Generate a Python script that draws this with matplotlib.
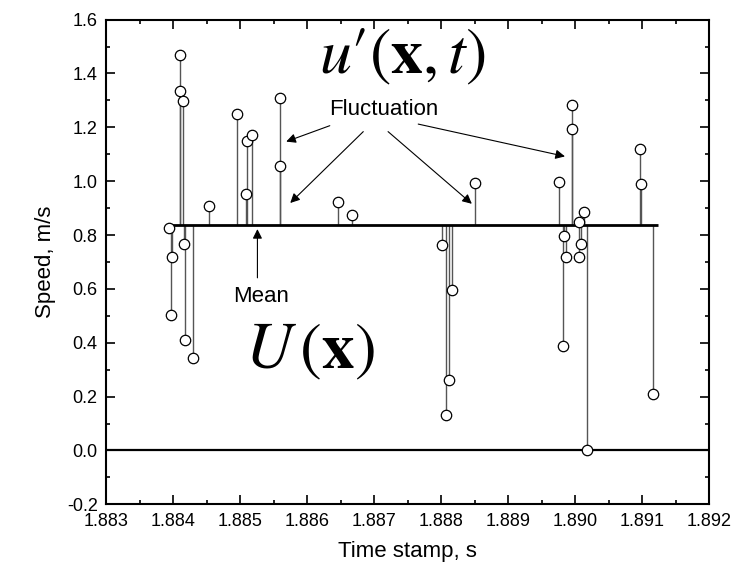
"""
Instantaneous speed samples at one point: mean U(x) plus fluctuations u'(x,t).
"""
import numpy as np
import matplotlib
matplotlib.use("Agg")
import matplotlib.pyplot as plt
from matplotlib.ticker import MultipleLocator, FormatStrFormatter

plt.rcParams["font.family"] = ["Liberation Sans", "DejaVu Sans"]
plt.rcParams["mathtext.fontset"] = "stix"
plt.rcParams["axes.unicode_minus"] = False

# sample time stamps (s) and measured speeds (m/s)
times = [1.88394, 1.88398, 1.88397, 1.88410, 1.88410, 1.88415, 1.88417, 1.88418,
         1.88430, 1.88454, 1.88495, 1.88510, 1.88518, 1.88509, 1.88559, 1.88559,
         1.88647, 1.88667, 1.88850, 1.88802, 1.88816, 1.88812, 1.88808,
         1.88996, 1.88995, 1.88976, 1.89097, 1.89099, 1.89014, 1.89006,
         1.88984, 1.88986, 1.89009, 1.89006, 1.88982, 1.89018, 1.89117]
speeds = [0.825, 0.717, 0.502, 1.469, 1.336, 1.296, 0.767, 0.412,
          0.344, 0.906, 1.250, 1.150, 1.173, 0.952, 1.308, 1.055,
          0.922, 0.873, 0.993, 0.764, 0.597, 0.261, 0.130,
          1.281, 1.195, 0.998, 1.120, 0.989, 0.884, 0.848,
          0.797, 0.717, 0.768, 0.718, 0.387, 0.001, 0.211]
MEAN = 0.836
MEAN_SPAN = (1.88398, 1.89124)

# annotation arrows: (tail t, tail v) -> (head t, head v)
fluct_arrows = [((1.88634, 1.206), (1.88569, 1.147)),
                ((1.88684, 1.184), (1.88575, 0.919)),
                ((1.88721, 1.184), (1.88846, 0.916)),
                ((1.88766, 1.212), (1.88985, 1.092))]
mean_arrow = ((1.88526, 0.641), (1.88526, 0.822))

fig = plt.figure(figsize=(7.48, 5.73), dpi=100)
ax = fig.add_axes([106 / 748, 1 - 504.3 / 573, 603 / 748, 484.7 / 573])

ax.axhline(0.0, color="k", lw=1.6, zorder=2)
ax.vlines(times, MEAN, speeds, colors="#555555", lw=1.0, zorder=2)
ax.hlines(MEAN, MEAN_SPAN[0], MEAN_SPAN[1], colors="k", lw=2.0, zorder=3)
ax.plot(times, speeds, "o", mfc="white", mec="k", ms=7.5, mew=0.9, zorder=4)

aprops = dict(arrowstyle="-|>", color="k", lw=0.8, mutation_scale=14,
              shrinkA=0, shrinkB=0)
for tail, head in fluct_arrows:
    ax.annotate("", xy=head, xytext=tail, arrowprops=aprops)
ax.annotate("", xy=mean_arrow[1], xytext=mean_arrow[0], arrowprops=aprops)

ax.text(1.88743, 1.462, r"$u\prime(\mathbf{x},t)$", fontsize=46, ha="center", va="center")
ax.text(1.88715, 1.265, "Fluctuation", fontsize=16, ha="center", va="center")
ax.text(1.88531, 0.572, "Mean", fontsize=16, ha="center", va="center")
ax.text(1.88605, 0.367, r"$U\,(\mathbf{x})$", fontsize=47, ha="center", va="center")

ax.set_xlim(1.883, 1.892)
ax.set_ylim(-0.2, 1.6)
ax.xaxis.set_major_locator(MultipleLocator(0.001))
ax.xaxis.set_minor_locator(MultipleLocator(0.0005))
ax.yaxis.set_major_locator(MultipleLocator(0.2))
ax.yaxis.set_minor_locator(MultipleLocator(0.1))
ax.xaxis.set_major_formatter(FormatStrFormatter("%.3f"))
ax.yaxis.set_major_formatter(FormatStrFormatter("%.1f"))
ax.tick_params(which="both", direction="in", top=True, right=True, width=1.2,
               labelsize=13)
ax.tick_params(which="major", length=6.5, pad=6)
ax.tick_params(which="minor", length=3.2)
for s in ax.spines.values():
    s.set_linewidth(1.5)

ax.set_xlabel("Time stamp, s", fontsize=16, labelpad=8)
ax.set_ylabel("Speed, m/s", fontsize=16, labelpad=8)

fig.savefig("out.png", dpi=100)
